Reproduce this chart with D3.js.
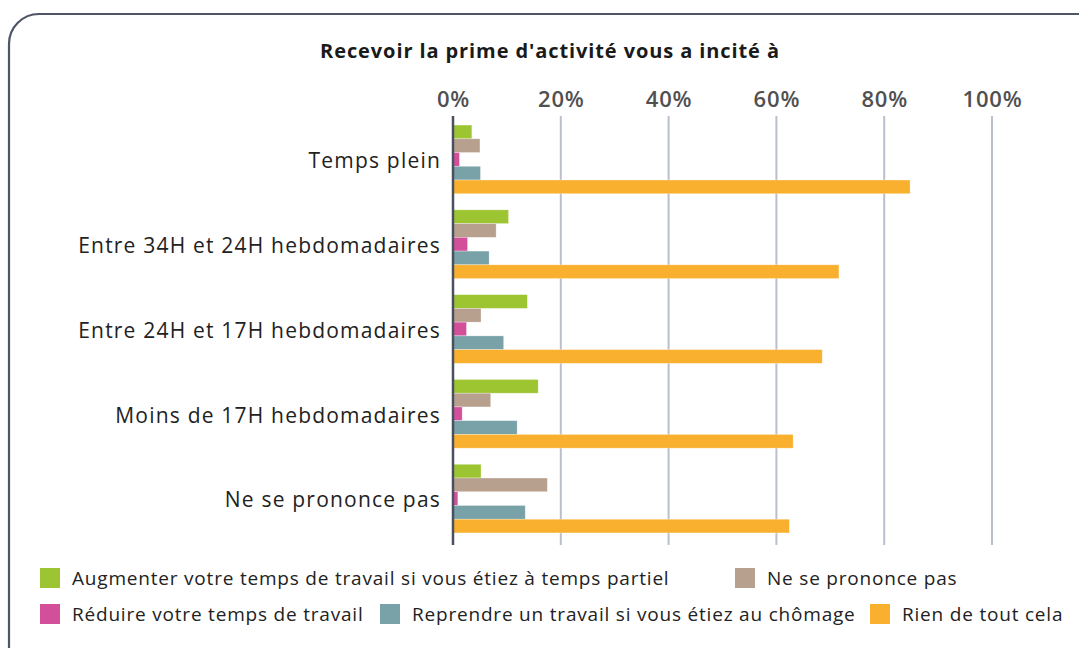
<!DOCTYPE html>
<html>
<head>
<meta charset="utf-8">
<script src="https://cdn.jsdelivr.net/npm/d3@7"></script>
<style>
  body { margin: 0; background: #fff; }
  svg { display: block; font-family: "Open Sans", sans-serif; }
</style>
</head>
<body>
<svg id="chart"></svg>
<script>
// data (percent)
const categories = ["Temps plein", "Entre 34H et 24H hebdomadaires", "Entre 24H et 17H hebdomadaires", "Moins de 17H hebdomadaires", "Ne se prononce pas"]
const seriesNames = ["Augmenter votre temps de travail si vous étiez à temps partiel", "Ne se prononce pas", "Réduire votre temps de travail", "Reprendre un travail si vous étiez au chômage", "Rien de tout cela"]
const augmenter = [3.5, 10.3, 13.8, 15.8, 5.2]
const nspp = [5.0, 8.0, 5.2, 7.0, 17.5]
const reduire = [1.2, 2.7, 2.5, 1.7, 0.9]
const reprendre = [5.1, 6.7, 9.4, 11.9, 13.4]
const rien = [84.8, 71.6, 68.5, 63.1, 62.4]
const tickValues = [0, 20, 40, 60, 80, 100]
const colors = ["#9dc431", "#b8a08e", "#d44f9a", "#78a2a8", "#f8b02e"]

const series = [augmenter, nspp, reduire, reprendre, rien]

const dims = { width: 1079, height: 648, plotLeft: 453, plotRight: 992, plotTop: 117, plotBottom: 541 }

const svg = d3.select("#chart").attr("width", dims.width).attr("height", dims.height)

// frame
svg.append("rect")
  .attr("x", 9).attr("y", 14).attr("width", 1110).attr("height", 680)
  .attr("rx", 30).attr("ry", 30)
  .attr("fill", "none").attr("stroke", "#4d5566").attr("stroke-width", 2.2)

svg.append("text")
  .attr("x", 550).attr("y", 58)
  .attr("text-anchor", "middle")
  .style("font-size", "20px").style("font-weight", "bold").style("letter-spacing", "0.9px")
  .attr("fill", "#1a1a1a")
  .text("Recevoir la prime d'activité vous a incité à")

const x = d3.scaleLinear().domain([0, 100]).range([dims.plotLeft, dims.plotRight])
const y = d3.scaleBand().domain(categories).range([dims.plotTop, dims.plotBottom]).paddingInner(0.19).paddingOuter(0.095)
const ySub = d3.scaleBand().domain(d3.range(series.length)).range([0, y.bandwidth()])

// gridlines
svg.append("g").selectAll("line").data(tickValues.slice(1)).join("line")
  .attr("x1", d => x(d)).attr("x2", d => x(d))
  .attr("y1", 116).attr("y2", 545)
  .attr("stroke", "#b9bfcc").attr("stroke-width", 2)

// top axis labels
const xAxis = d3.axisTop(x).tickValues(tickValues).tickFormat(d => d + "%").tickSize(0).tickPadding(0)
const xAxisGroup = svg.append("g").attr("transform", "translate(0,107)").call(xAxis)
xAxisGroup.select(".domain").remove()
xAxisGroup.selectAll("text")
  .style("font-family", "Open Sans, sans-serif").style("font-size", "22px").style("font-weight", "600")
  .style("letter-spacing", "0.8px")
  .attr("fill", "#505050")

// bars
const groups = svg.append("g").selectAll("g").data(categories).join("g")
  .attr("transform", d => `translate(0,${y(d)})`)

groups.selectAll("rect")
  .data((c, ci) => series.map((s, si) => ({ si, v: s[ci] })))
  .join("rect")
  .attr("x", x(0))
  .attr("y", d => ySub(d.si))
  .attr("width", d => x(d.v) - x(0))
  .attr("height", ySub.bandwidth())
  .attr("fill", d => colors[d.si])
  .attr("stroke", "#ffffff").attr("stroke-opacity", 0.5).attr("stroke-width", 0.6)

// category labels
const yAxis = d3.axisLeft(y).tickSize(0).tickPadding(12)
const yAxisGroup = svg.append("g").attr("transform", `translate(${x(0)},2)`).call(yAxis)
yAxisGroup.select(".domain").remove()
yAxisGroup.selectAll("text")
  .style("font-family", "Open Sans, sans-serif").style("font-size", "21px")
  .style("letter-spacing", "1.2px")
  .attr("fill", "#222")

// axis line at 0
svg.append("line")
  .attr("x1", x(0)).attr("x2", x(0)).attr("y1", 116).attr("y2", 545)
  .attr("stroke", "#4a5060").attr("stroke-width", 2.5)

// legend
const legendPos = [[40, 578], [735, 578], [40, 614], [380, 614], [870, 614]]
const legend = svg.append("g").selectAll("g").data(seriesNames).join("g")
  .attr("transform", (d, i) => `translate(${legendPos[i][0]},${legendPos[i][1]})`)
legend.append("rect")
  .attr("x", 0).attr("y", -10).attr("width", 20).attr("height", 20)
  .attr("fill", (d, i) => colors[i])
legend.append("text")
  .attr("x", 32).attr("y", 0).attr("dy", "0.35em")
  .style("font-size", "19px").style("letter-spacing", "0.8px").attr("fill", "#222")
  .text(d => d)
</script>
</body>
</html>
